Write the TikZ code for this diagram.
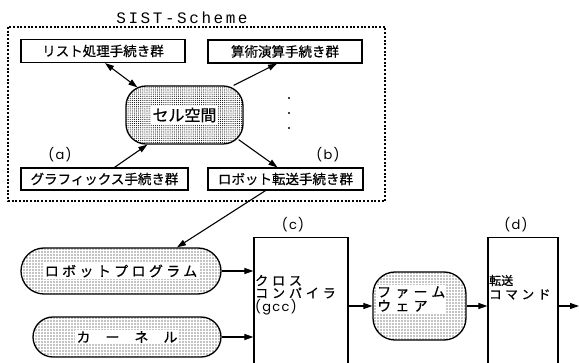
\documentclass[tikz,border=0pt]{standalone}
\usepackage{fontspec}
\usetikzlibrary{arrows.meta,patterns.meta,calc}
\newfontfamily\jp[FakeBold=0.6]{Noto Sans CJK JP}
\newfontfamily\jpwide[LetterSpace=24,FakeBold=0.6]{Noto Sans CJK JP}
\newfontfamily\jpwider[LetterSpace=30,FakeBold=0.6]{Noto Sans CJK JP}
\newfontfamily\ttl[LetterSpace=16]{Liberation Mono}
\newfontfamily\lat[LetterSpace=10]{Poppins}
\tikzset{
  procbox/.style={draw, line width=1.2pt, inner sep=0pt, minimum height=23pt,
    font=\jp\fontsize{13.5}{13.5}\selectfont},
  frame/.style={draw, line width=1.1pt, dash pattern=on 2pt off 1.7pt},
  arr/.style={line width=1.1pt, -{Triangle[length=9pt,width=6pt]}},
  dblarr/.style={line width=1.1pt, {Triangle[length=9pt,width=6pt]}-{Triangle[length=9pt,width=6pt]}},
  pill/.style={draw, line width=1.3pt, inner sep=0pt,
    pattern={Dots[distance=3pt, radius=0.6pt]}},
  cellshape/.style={draw, line width=1.3pt, inner sep=0pt, rounded corners=20pt,
    pattern={Dots[distance=2.1pt, radius=0.55pt]}},
  tall/.style={draw, line width=1.2pt, inner sep=0pt, anchor=north},
  tag/.style={font=\lat\fontsize{13}{13}\selectfont, inner sep=0pt},
  onwhite/.style={fill=white, inner sep=1.5pt},
}
\begin{document}
\begin{tikzpicture}[x=1pt, y=-1pt]
\useasboundingbox (0,0) rectangle (579,363);
\clip (0,0) rectangle (579,363);
\fill[white] (0,0) rectangle (579,363);

% SIST-Scheme enclosure
\draw[frame] (8,27) rectangle (385,201);
\node[font=\ttl\fontsize{16}{16}\selectfont, inner sep=0pt] (title) at (182,18) {SIST-Scheme};

% procedure groups
\node[procbox, minimum width=164pt] (list) at (103,51) {リスト処理手続き群};
\node[procbox, minimum width=154pt] (arith) at (285,51.5) {算術演算手続き群};
\node[procbox, minimum width=167pt, minimum height=22pt] (graph) at (104.5,179) {グラフィックス手続き群};
\node[procbox, minimum width=155pt, minimum height=22pt] (rt) at (285.5,179) {ロボット転送手続き群};

% cell space
\node[cellshape, minimum width=117pt, minimum height=58pt] (cell) at (184.5,115) {};
\node[onwhite, font=\jp\fontsize{16}{16}\selectfont] (celltext) at (cell.center) {セル空間};

% continuation dots
\fill (289,98) circle (1.1pt) (289,113) circle (1.1pt) (289,128) circle (1.1pt);

\node[tag] (la) at (60,155) {(a)};
\node[tag] (lb) at (328,155) {(b)};

\draw[dblarr] ([xshift=2pt]list.south) -- ($(cell.north west)+(12,2)$);
\draw[arr] ($(cell.north east)+(-10,0)$) -- ([xshift=-8pt]arith.south);
\draw[arr] ([xshift=10pt]graph.north) -- ($(cell.south west)+(22,0)$);
\draw[arr] ($(cell.south east)+(-5,-5)$) -- ([xshift=-8pt]rt.north);

% tool chain
\node[pill, minimum width=200pt, minimum height=46pt, rounded corners=23pt] (rp) at (121,271) {};
\node[onwhite, font=\jpwide\fontsize{14}{14}\selectfont] (rptext) at (rp.center) {ロボットプログラム};
\node[pill, minimum width=188pt, minimum height=40pt, rounded corners=20pt] (kern) at (127,337) {};
\node[onwhite, font=\jp\fontsize{14}{14}\selectfont] (kerntext) at (kern.center) {カ\hspace{15pt}ー\hspace{15pt}ネ\hspace{15pt}ル};

\draw[arr] ([xshift=-20pt]rt.south) -- ([xshift=56pt]rp.north);

\node[tall, minimum width=94pt, minimum height=140pt] (cc) at (301,237) {};
\node[tag] (lc) at (293,225) {(c)};
\node[anchor=west, align=left, inner sep=0pt, font=\jpwider\fontsize{13}{12.5}\selectfont] (cctext) at (255,295)
  {クロス\\コンパイラ\\{\lat (gcc)}};

\node[pill, minimum width=93pt, minimum height=68pt, rounded corners=22pt] (fw) at (419.5,306) {};
\node[onwhite, anchor=west, align=left, inner sep=1pt, font=\jpwider\fontsize{14}{14}\selectfont] (fwtext) at (376,299)
  {ファーム\\ウェア};

\node[tall, minimum width=70pt, minimum height=140pt] (dd) at (523,237) {};
\node[tag] (ld) at (516,225) {(d)};
\node[anchor=west, inner sep=0pt, font=\jp\fontsize{12}{12}\selectfont] (ddtop) at (489,280.5) {転送};
\node[anchor=west, inner sep=0pt, font=\jpwider\fontsize{12.5}{12.5}\selectfont] (ddbot) at (489,294.5) {コマンド};
\coordinate (outend) at (579,306);

\draw[arr] (rp.east) -- (rp.east -| cc.west);
\draw[arr] (kern.east) -- (kern.east -| cc.west);
\draw[arr] (fw.west -| cc.east) -- (fw.west);
\draw[arr] (fw.east) -- (fw.east -| dd.west);
\draw[arr] (fw.east -| dd.east) -- (outend);
\end{tikzpicture}
\end{document}
